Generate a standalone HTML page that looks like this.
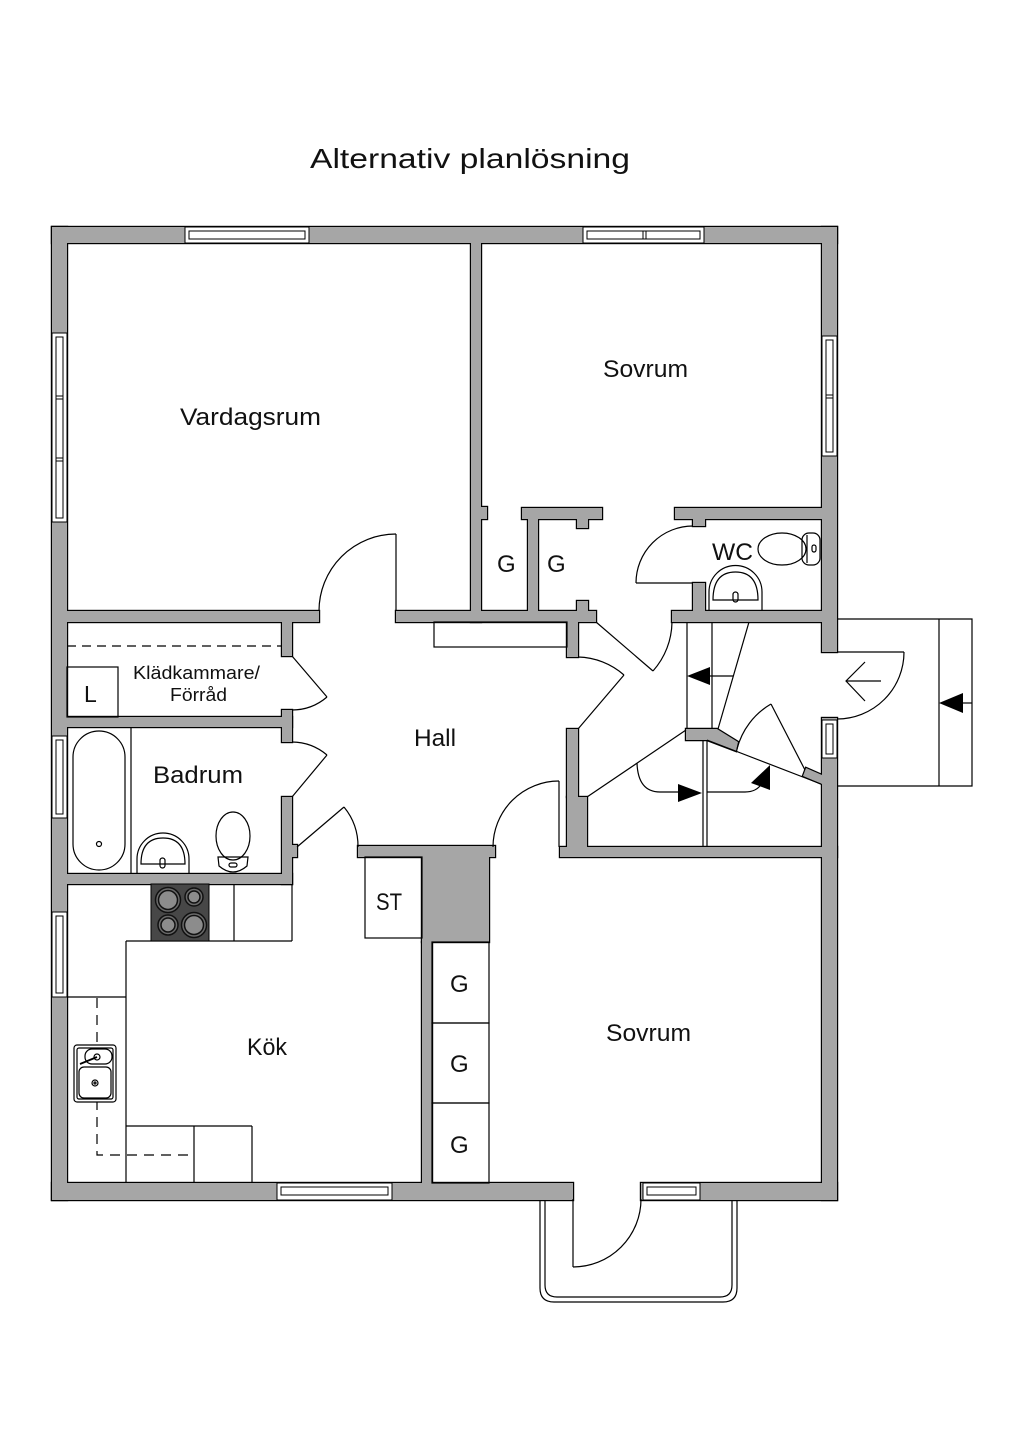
<!DOCTYPE html>
<html>
<head>
<meta charset="utf-8">
<style>
  html,body{margin:0;padding:0;background:#fff;}
  svg{display:block;}
  text{font-family:"Liberation Sans",sans-serif;fill:#111;}
</style>
</head>
<body>
<svg width="1024" height="1448" viewBox="0 0 1024 1448" xmlns="http://www.w3.org/2000/svg">
<defs>
  <g id="walls">
    <!-- outer -->
    <rect x="52" y="227" width="785" height="16"/>
    <rect x="52" y="227" width="15" height="973"/>
    <rect x="822" y="227" width="15" height="425"/>
    <rect x="822" y="718" width="15" height="482"/>
    <rect x="52" y="1183" width="521" height="17"/>
    <rect x="641" y="1183" width="196" height="17"/>
    <!-- interior -->
    <rect x="471" y="243" width="10" height="379"/>
    <rect x="67" y="611" width="252" height="11"/>
    <rect x="396" y="611" width="200" height="11"/>
    <rect x="481" y="507" width="6" height="12"/>
    <rect x="522" y="508" width="80" height="11"/>
    <rect x="528" y="519" width="10" height="93"/>
    <rect x="577" y="519" width="11" height="9"/>
    <rect x="577" y="601" width="11" height="11"/>
    <rect x="567" y="622" width="11" height="35"/>
    <rect x="675" y="508" width="147" height="11"/>
    <rect x="693" y="519" width="12" height="7"/>
    <rect x="693" y="583" width="12" height="29"/>
    <rect x="672" y="611" width="150" height="11"/>
    <rect x="282" y="622" width="10" height="34"/>
    <rect x="67" y="717" width="225" height="10"/>
    <rect x="282" y="710" width="10" height="32"/>
    <rect x="282" y="797" width="10" height="87"/>
    <rect x="292" y="845" width="5" height="12"/>
    <rect x="67" y="874" width="225" height="10"/>
    <rect x="358" y="846" width="137" height="11"/>
    <rect x="422" y="857" width="67" height="85"/>
    <rect x="422" y="942" width="10" height="241"/>
    <rect x="567" y="729" width="11" height="68"/>
    <rect x="567" y="797" width="20" height="50"/>
    <rect x="560" y="847" width="277" height="10"/>
    <polygon points="686,729 717,729 738,742 736,751 707,740 686,740"/>
    <polygon points="806,768 822,775 822,784 803,776"/>
  </g>
</defs>

<!-- Title -->
<text x="310" y="168" font-size="28" textLength="320" lengthAdjust="spacingAndGlyphs">Alternativ planlösning</text>

<!-- Walls: outline then fill -->
<use href="#walls" fill="#000" stroke="#000" stroke-width="2.4"/>
<use href="#walls" fill="#a6a6a6"/>

<g fill="#fff" stroke="#000" stroke-width="1">
  <!-- top windows -->
  <rect x="185" y="227" width="124" height="16"/>
  <rect x="189" y="231" width="116" height="8"/>
  <rect x="583" y="227" width="121" height="16"/>
  <rect x="587" y="231" width="113" height="8"/>
  <line x1="643" y1="231" x2="643" y2="239"/>
  <line x1="646" y1="231" x2="646" y2="239"/>
  <!-- left windows -->
  <rect x="52" y="333" width="15" height="189"/>
  <rect x="56" y="337" width="7" height="181"/>
  <line x1="56" y1="396" x2="63" y2="396"/>
  <line x1="56" y1="399" x2="63" y2="399"/>
  <line x1="56" y1="458" x2="63" y2="458"/>
  <line x1="56" y1="461" x2="63" y2="461"/>
  <rect x="52" y="736" width="15" height="82"/>
  <rect x="56" y="740" width="7" height="74"/>
  <rect x="52" y="912" width="15" height="85"/>
  <rect x="56" y="916" width="7" height="77"/>
  <!-- right windows -->
  <rect x="822" y="336" width="15" height="120"/>
  <rect x="826" y="340" width="7" height="112"/>
  <line x1="826" y1="395" x2="833" y2="395"/>
  <line x1="826" y1="398" x2="833" y2="398"/>
  <rect x="822" y="720" width="15" height="38"/>
  <rect x="826" y="724" width="7" height="30"/>
  <!-- bottom windows -->
  <rect x="277" y="1183" width="115" height="17"/>
  <rect x="281" y="1187" width="107" height="8"/>
  <rect x="643" y="1183" width="57" height="17"/>
  <rect x="647" y="1187" width="49" height="8"/>
</g>

<g fill="none" stroke="#000" stroke-width="1.2">
  <!-- Doors -->
  <line x1="396" y1="611" x2="396" y2="534"/>
  <path d="M396,534 A77,77 0 0 0 319,611"/>
  <line x1="596" y1="622" x2="653" y2="671"/>
  <path d="M653,671 A75,75 0 0 0 672,622"/>
  <line x1="578" y1="729" x2="624" y2="675"/>
  <path d="M624,675 A72,72 0 0 0 578,657"/>
  <line x1="292" y1="656" x2="327" y2="697"/>
  <path d="M327,697 A54,54 0 0 1 292,710"/>
  <line x1="292" y1="797" x2="327" y2="755"/>
  <path d="M327,755 A55,55 0 0 0 292,742"/>
  <line x1="297" y1="847" x2="344" y2="807"/>
  <path d="M344,807 A62,62 0 0 1 358,847"/>
  <line x1="559" y1="847" x2="559" y2="781"/>
  <path d="M559,781 A66,66 0 0 0 493,847"/>
  <line x1="693" y1="583" x2="636" y2="583"/>
  <path d="M636,583 A57,57 0 0 1 693,526"/>
  <line x1="573" y1="1199" x2="573" y2="1267"/>
  <path d="M573,1267 A68,68 0 0 0 641,1199"/>
  <line x1="837" y1="652" x2="904" y2="652"/>
  <path d="M904,652 A67,67 0 0 1 837,719"/>
  <line x1="805" y1="770" x2="771" y2="704"/>
  <path d="M771,704 A73,73 0 0 0 737,749"/>

  <!-- entrance chevron -->
  <polyline points="865,662 846,681 865,701"/>
  <line x1="846" y1="681" x2="881" y2="681"/>

  <!-- terrace -->
  <polyline points="837,619 972,619 972,786 837,786"/>
  <line x1="939" y1="619" x2="939" y2="786"/>
  <line x1="963" y1="703" x2="972" y2="703"/>

  <!-- balcony -->
  <path d="M540,1200 L540,1288 Q540,1302 554,1302 L723,1302 Q737,1302 737,1288 L737,1200"/>
  <path d="M545,1200 L545,1285 Q545,1297 557,1297 L720,1297 Q732,1297 732,1285 L732,1200"/>

  <!-- hall shelf -->
  <rect x="434" y="622" width="133" height="25"/>

  <!-- Klädkammare -->
  <line x1="67" y1="646" x2="282" y2="646" stroke-dasharray="9,6"/>
  <rect x="67" y="667" width="51" height="50"/>

  <!-- Stairs -->
  <line x1="687" y1="622" x2="687" y2="729"/>
  <line x1="712" y1="622" x2="712" y2="729"/>
  <line x1="710" y1="676" x2="733" y2="676"/>
  <line x1="749" y1="622" x2="718" y2="729"/>
  <line x1="707" y1="740" x2="821" y2="784"/>
  <line x1="703" y1="740" x2="703" y2="847"/>
  <line x1="707" y1="740" x2="707" y2="847"/>
  <line x1="686" y1="730" x2="587" y2="797"/>
  <path d="M637,763 Q638,792 660,792 L678,792"/>
  <path d="M707,792 L745,792 Q757,792 762,783"/>

  <!-- WC fixtures -->
  <ellipse cx="782" cy="549" rx="24" ry="16"/>
  <rect x="802" y="533" width="18" height="32" rx="7"/>
  <line x1="807" y1="535" x2="807" y2="563"/>
  <rect x="812" y="545" width="4" height="7" rx="2"/>
  <path d="M709,611 L709,592 A26.5,26.5 0 0 1 762,592 L762,611"/>
  <path d="M713,600 Q713,572 735.5,572 Q758,572 758,600 Z"/>
  <rect x="733" y="592" width="5" height="10" rx="2.5"/>

  <!-- Badrum fixtures -->
  <line x1="131" y1="727" x2="131" y2="874"/>
  <rect x="73" y="731" width="52" height="139" rx="26"/>
  <circle cx="99" cy="844" r="2.5"/>
  <path d="M137,874 L137,859 A26,26 0 0 1 189,859 L189,874"/>
  <path d="M141,864 Q141,838 163,838 Q185,838 185,864 Z"/>
  <rect x="160" y="858" width="5" height="10" rx="2.5"/>
  <ellipse cx="233" cy="836" rx="17" ry="24"/>
  <path d="M218,857 L248,857 L247,866 Q233,878 219,866 Z"/>
  <rect x="229" y="863" width="8" height="4" rx="2"/>

  <!-- Kitchen -->
  <line x1="126" y1="941" x2="292" y2="941"/>
  <line x1="126" y1="941" x2="126" y2="1183"/>
  <line x1="67" y1="997" x2="126" y2="997"/>
  <line x1="234" y1="884" x2="234" y2="941"/>
  <line x1="292" y1="884" x2="292" y2="941"/>
  <line x1="126" y1="1126" x2="252" y2="1126"/>
  <line x1="252" y1="1126" x2="252" y2="1183"/>
  <line x1="194" y1="1126" x2="194" y2="1183"/>
  <path d="M97,998 L97,1155 L194,1155" stroke-dasharray="10,7"/>
  <rect x="74" y="1045" width="42" height="57" rx="3" fill="#fff"/>
  <rect x="77" y="1048" width="36" height="51" rx="2"/>
  <rect x="85" y="1049" width="27" height="15" rx="7"/>
  <rect x="79" y="1067" width="32" height="31" rx="5"/>
  <circle cx="97" cy="1057" r="3"/>
  <circle cx="95" cy="1083" r="3"/>
  <circle cx="95" cy="1083" r="1"/>
  <line x1="80" y1="1064" x2="97" y2="1057" stroke-width="1.8"/>

  <!-- ST & wardrobes -->
  <rect x="365" y="857" width="57" height="81"/>
  <rect x="432" y="942" width="57" height="81"/>
  <rect x="432" y="1023" width="57" height="80"/>
  <rect x="432" y="1103" width="57" height="80"/>
</g>

<!-- Stove -->
<rect x="151" y="884" width="58" height="57" fill="#474747" stroke="#000" stroke-width="1"/>
<g stroke="#111" stroke-width="1.5" fill="#8c8c8c">
  <circle cx="168" cy="900" r="12.5" fill="#6a6a6a"/>
  <circle cx="168" cy="900" r="9.5"/>
  <circle cx="194" cy="897" r="9" fill="#6a6a6a"/>
  <circle cx="194" cy="897" r="6"/>
  <circle cx="168" cy="925" r="10" fill="#6a6a6a"/>
  <circle cx="168" cy="925" r="7"/>
  <circle cx="194" cy="925" r="12.5" fill="#6a6a6a"/>
  <circle cx="194" cy="925" r="9.5"/>
</g>

<!-- Arrows -->
<g fill="#000">
  <polygon points="687,676 710,667 710,685"/>
  <polygon points="678,784 678,802 702,793"/>
  <polygon points="751,783 770,765 770,790"/>
  <polygon points="939,703 963,693 963,713"/>
</g>

<!-- Labels -->
<text x="180" y="425" font-size="24" textLength="141" lengthAdjust="spacingAndGlyphs">Vardagsrum</text>
<text x="603" y="377" font-size="24" textLength="85" lengthAdjust="spacingAndGlyphs">Sovrum</text>
<text x="497" y="572" font-size="24">G</text>
<text x="547" y="572" font-size="24">G</text>
<text x="712" y="560" font-size="24" textLength="41" lengthAdjust="spacingAndGlyphs">WC</text>
<text x="133" y="679" font-size="18" textLength="127" lengthAdjust="spacingAndGlyphs">Klädkammare/</text>
<text x="170" y="701" font-size="18" textLength="57" lengthAdjust="spacingAndGlyphs">Förråd</text>
<text x="84" y="702" font-size="23">L</text>
<text x="153" y="783" font-size="24" textLength="90" lengthAdjust="spacingAndGlyphs">Badrum</text>
<text x="414" y="746" font-size="24" textLength="42" lengthAdjust="spacingAndGlyphs">Hall</text>
<text x="376" y="910" font-size="24" textLength="26" lengthAdjust="spacingAndGlyphs">ST</text>
<text x="247" y="1055" font-size="24" textLength="40" lengthAdjust="spacingAndGlyphs">Kök</text>
<text x="606" y="1041" font-size="24" textLength="85" lengthAdjust="spacingAndGlyphs">Sovrum</text>
<text x="450" y="992" font-size="24">G</text>
<text x="450" y="1072" font-size="24">G</text>
<text x="450" y="1153" font-size="24">G</text>
</svg>
</body>
</html>
